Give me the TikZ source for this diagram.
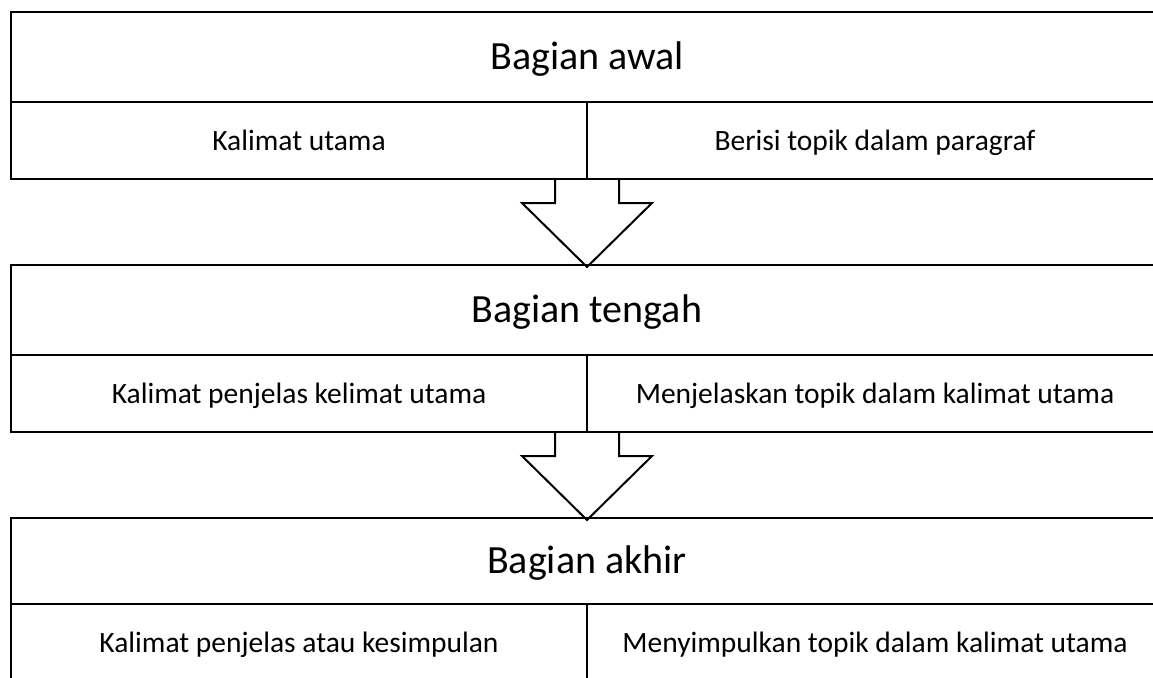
\documentclass[tikz,border=0pt]{standalone}
\usepackage{fontspec}
\setmainfont{Carlito}
\usetikzlibrary{positioning}
\begin{document}
\begin{tikzpicture}[x=1pt,y=-1pt,
  headbox/.style={draw=black,line width=2pt,minimum width=1152pt,minimum height=90pt,inner sep=0pt,outer sep=0pt,anchor=north west,font=\fontsize{40}{46}\selectfont,text height=25.8pt,text depth=0pt},
  cellbox/.style={draw=black,line width=2pt,minimum width=576pt,minimum height=77pt,inner sep=0pt,outer sep=0pt,anchor=north west,font=\fontsize{29.5}{35}\selectfont,text height=19pt,text depth=0pt},
  blockarrow/.style={draw=black,line width=2pt,line join=miter}]
\useasboundingbox (0,0) rectangle (1153,677);
\clip (0,0) rectangle (1153,677);
% block 1
\node[headbox] (H1) at (11,12) {Bagian awal};
\node[cellbox] (L1) at (H1.south west) {Kalimat utama};
\node[cellbox] (R1) at (L1.north east) {Berisi topik dalam paragraf};
% block 2
\node[headbox] (H2) at (11,265) {Bagian tengah};
\node[cellbox] (L2) at (H2.south west) {Kalimat penjelas kelimat utama};
\node[cellbox] (R2) at (L2.north east) {Menjelaskan topik dalam kalimat utama};
% block 3
\node[headbox,minimum height=86pt] (H3) at (11,518) {Bagian akhir};
\node[cellbox,minimum height=77pt] (L3) at (H3.south west) {Kalimat penjelas atau kesimpulan};
\node[cellbox,minimum height=77pt] (R3) at (L3.north east) {Menyimpulkan topik dalam kalimat utama};
% arrows
\draw[blockarrow] ([xshift=-32pt]L1.south east) -- ++(0,24) -- ++(-33,0) -- ([yshift=-2pt]H2.north) -- ([xshift=65pt,yshift=-24pt]L1.south east) -- ++(-33,0) -- ++(0,-24);
\draw[blockarrow] ([xshift=-32pt]L2.south east) -- ++(0,24) -- ++(-33,0) -- ([yshift=-2pt]H3.north) -- ([xshift=65pt,yshift=-24pt]L2.south east) -- ++(-33,0) -- ++(0,-24);
\end{tikzpicture}
\end{document}
